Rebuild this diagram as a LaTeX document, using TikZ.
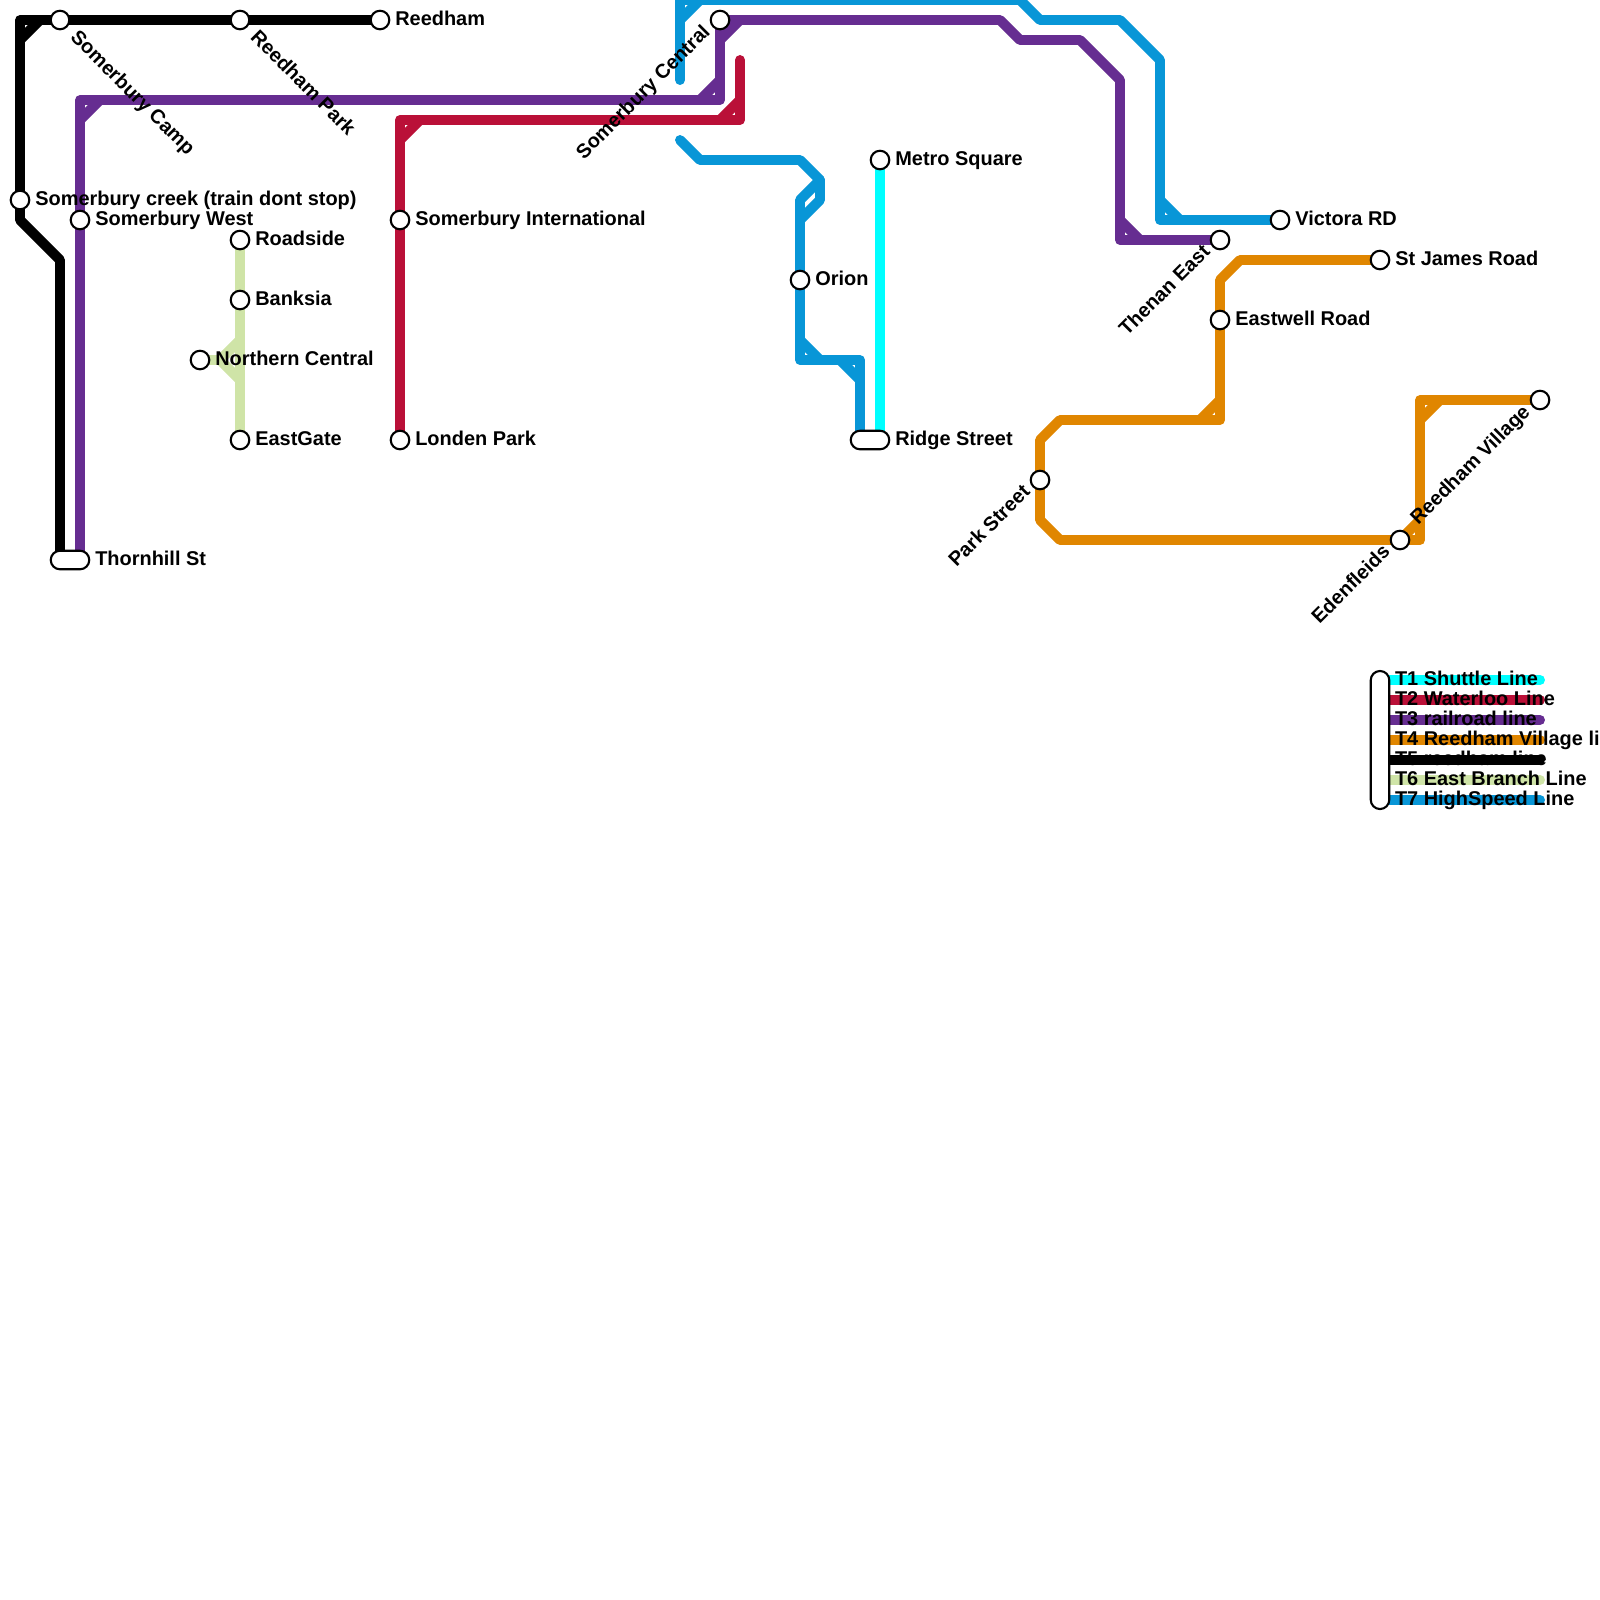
\documentclass[tikz,border=0pt]{standalone}
\usepackage{fontspec}
\setmainfont{Liberation Sans}
\usetikzlibrary{positioning}
\pgfdeclarelayer{lines}
\pgfsetlayers{lines,main}

\definecolor{tOne}{HTML}{00FFFF}
\definecolor{tTwo}{HTML}{BA1038}
\definecolor{tThree}{HTML}{662D91}
\definecolor{tFour}{HTML}{E08600}
\definecolor{tFive}{HTML}{000000}
\definecolor{tSix}{HTML}{CFE4A7}
\definecolor{tSeven}{HTML}{0896D7}

\tikzset{
  track/.style={line width=3.54pt, line join=round, line cap=round},
  station/.style={circle, draw=black, fill=white, line width=0.75pt, inner sep=0pt, minimum size=6.6pt},
  terminus/.style={rectangle, rounded corners=3.3pt, draw=black, fill=white, line width=0.75pt, inner sep=0pt, minimum width=13.7pt, minimum height=6.6pt},
  legendbox/.style={rectangle, rounded corners=3.3pt, draw=black, fill=white, line width=0.75pt, inner sep=0pt, minimum width=6.6pt, minimum height=49.1pt},
  lbl/.style={inner sep=0pt, outer sep=0pt, font=\fontsize{7.09pt}{8.5pt}\selectfont\bfseries},
  lblright/.style={lbl, yshift=-2.1pt},
  lbldown/.style={lbl, rotate=-45, anchor=mid west, xshift=3.4pt, yshift=0.4pt},
  lblup/.style={lbl, rotate=45, anchor=mid east, xshift=-1.9pt, yshift=1.6pt},
  lbllegend/.style={lbl, anchor=base west, yshift=-2.1pt},
  node distance=1.77pt
}

\begin{document}
\begin{tikzpicture}[x=0.25cm, y=-0.25cm]
    \useasboundingbox (0,0) rectangle (80,80);

    % stations
    \node[station] (reedham) at (19,1) {};
    \node[station] (reedhamPark) at (12,1) {};
    \node[station] (somCamp) at (3,1) {};
    \node[station] (somCreek) at (1,10) {};
    \node[station] (somWest) at (4,11) {};
    \node[terminus] (thornhill) at (3.5,28) {};
    \node[station] (roadside) at (12,12) {};
    \node[station] (banksia) at (12,15) {};
    \node[station] (northern) at (10,18) {};
    \node[station] (eastgate) at (12,22) {};
    \node[station] (somInt) at (20,11) {};
    \node[station] (londen) at (20,22) {};
    \node[station] (somCentral) at (36,1) {};
    \node[station] (metroSq) at (44,8) {};
    \node[station] (orion) at (40,14) {};
    \node[terminus] (ridge) at (43.5,22) {};
    \node[station] (victora) at (64,11) {};
    \node[station] (thenan) at (61,12) {};
    \node[station] (stJames) at (69,13) {};
    \node[station] (eastwell) at (61,16) {};
    \node[station] (parkSt) at (52,24) {};
    \node[station] (edenfleids) at (70,27) {};
    \node[station] (reedhamVil) at (77,20) {};
    \node[legendbox] (legend) at (69,37) {};

    % station names
    \node[lblright, base right=of reedham] (reedhamL) {Reedham};
    \node[lbldown] (reedhamParkL) at (reedhamPark.-45) {Reedham Park};
    \node[lbldown] (somCampL) at (somCamp.-45) {Somerbury Camp};
    \node[lblright, base right=of somCreek] (somCreekL) {Somerbury creek (train dont stop)};
    \node[lblright, base right=of somWest] (somWestL) {Somerbury West};
    \node[lblright, base right=of thornhill] (thornhillL) {Thornhill St};
    \node[lblright, base right=of roadside] (roadsideL) {Roadside};
    \node[lblright, base right=of banksia] (banksiaL) {Banksia};
    \node[lblright, base right=of northern] (northernL) {Northern Central};
    \node[lblright, base right=of eastgate] (eastgateL) {EastGate};
    \node[lblright, base right=of somInt] (somIntL) {Somerbury International};
    \node[lblright, base right=of londen] (londenL) {Londen Park};
    \node[lblup] (somCentralL) at (somCentral.225) {Somerbury Central};
    \node[lblright, base right=of metroSq] (metroSqL) {Metro Square};
    \node[lblright, base right=of orion] (orionL) {Orion};
    \node[lblright, base right=of ridge] (ridgeL) {Ridge Street};
    \node[lblright, base right=of victora] (victoraL) {Victora RD};
    \node[lblup] (thenanL) at (thenan.225) {Thenan East};
    \node[lblright, base right=of stJames] (stJamesL) {St James Road};
    \node[lblright, base right=of eastwell] (eastwellL) {Eastwell Road};
    \node[lblup] (parkStL) at (parkSt.225) {Park Street};
    \node[lblup] (edenfleidsL) at (edenfleids.225) {Edenfleids};
    \node[lblup] (reedhamVilL) at (reedhamVil.225) {Reedham Village};

    % legend names
    \node[lbllegend] (oneL) at (69.75,34) {T1 Shuttle Line};
    \node[lbllegend] (twoL) at (69.75,35) {T2 Waterloo Line};
    \node[lbllegend] (threeL) at (69.75,36) {T3 railroad line};
    \node[lbllegend] (fourL) at (69.75,37) {T4 Reedham Village line};
    \node[lbllegend] (fiveL) at (69.75,38) {T5 reedham line};
    \node[lbllegend] (sixL) at (69.75,39) {T6 East Branch Line};
    \node[lbllegend] (sevenL) at (69.75,40) {T7 HighSpeed Line};

    % T5 bends
    \coordinate (E1) at (1,1);
    \coordinate (E2) at (2,1);
    \coordinate (E3) at (1,2);
    \coordinate (E4) at (1,11);
    \coordinate (E5) at (3,13);
    \coordinate (E6) at (3,28);
    % T3 bends
    \coordinate (P1) at (4,28);
    \coordinate (P2) at (4,5);
    \coordinate (P3) at (5,5);
    \coordinate (P4) at (4,6);
    \coordinate (P5) at (36,5);
    \coordinate (P6) at (35,5);
    \coordinate (P7) at (36,4);
    \coordinate (P8) at (37,1);
    \coordinate (P9) at (36,2);
    \coordinate (P10) at (50,1);
    \coordinate (P11) at (51,2);
    \coordinate (P12) at (54,2);
    \coordinate (P13) at (56,4);
    \coordinate (P14) at (56,12);
    \coordinate (P15) at (56,11);
    \coordinate (P16) at (57,12);
    % T2 bends
    \coordinate (R1) at (37,3);
    \coordinate (R2) at (37,6);
    \coordinate (R3) at (36,6);
    \coordinate (R4) at (37,5);
    \coordinate (R5) at (20,6);
    \coordinate (R6) at (21,6);
    \coordinate (R7) at (20,7);
    % T6 bends
    \coordinate (G1) at (11,18);
    \coordinate (G2) at (12,17);
    \coordinate (G3) at (12,19);
    % T7 bends
    \coordinate (B1) at (34,4);
    \coordinate (B2) at (34,0);
    \coordinate (B3) at (35,0);
    \coordinate (B4) at (34,1);
    \coordinate (B5) at (51,0);
    \coordinate (B6) at (52,1);
    \coordinate (B7) at (56,1);
    \coordinate (B8) at (58,3);
    \coordinate (B9) at (58,11);
    \coordinate (B10) at (58,10);
    \coordinate (B11) at (59,11);
    \coordinate (C1) at (34,7);
    \coordinate (C2) at (35,8);
    \coordinate (C3) at (40,8);
    \coordinate (C4) at (41,9);
    \coordinate (C5) at (41,10);
    \coordinate (C6) at (40,11);
    \coordinate (C7) at (40,10);
    \coordinate (C8) at (40,18);
    \coordinate (C9) at (40,17);
    \coordinate (C10) at (41,18);
    \coordinate (C11) at (43,18);
    \coordinate (C12) at (42,18);
    \coordinate (C13) at (43,19);
    \coordinate (C14) at (43,22);
    % T1 end
    \coordinate (S1) at (44,22);
    % T4 bends
    \coordinate (O1) at (62,13);
    \coordinate (O2) at (61,14);
    \coordinate (O3) at (61,21);
    \coordinate (O4) at (60,21);
    \coordinate (O5) at (61,20);
    \coordinate (O6) at (53,21);
    \coordinate (O7) at (52,22);
    \coordinate (O8) at (52,26);
    \coordinate (O9) at (53,27);
    \coordinate (O10) at (71,27);
    \coordinate (O11) at (71,26);
    \coordinate (O12) at (71,20);
    \coordinate (O13) at (71,21);
    \coordinate (O14) at (72,20);
    % legend line ends
    \coordinate (oneA) at (69,34);
    \coordinate (oneB) at (77,34);
    \coordinate (twoA) at (69,35);
    \coordinate (twoB) at (77,35);
    \coordinate (threeA) at (69,36);
    \coordinate (threeB) at (77,36);
    \coordinate (fourA) at (69,37);
    \coordinate (fourB) at (77,37);
    \coordinate (fiveA) at (69,38);
    \coordinate (fiveB) at (77,38);
    \coordinate (sixA) at (69,39);
    \coordinate (sixB) at (77,39);
    \coordinate (sevenA) at (69,40);
    \coordinate (sevenB) at (77,40);

    \begin{pgfonlayer}{lines}
    % T5
    \draw[track, tFive] (reedham.center) -- (reedhamPark.center) -- (somCamp.center) -- (E1) -- (somCreek.center) -- (E4) -- (E5) -- (E6);
    \draw[track, tFive] (E2) -- (E3);
    % T3
    \draw[track, tThree] (P1) -- (somWest.center) -- (P2) -- (P5) -- (somCentral.center) -- (P10) -- (P11) -- (P12) -- (P13) -- (P14) -- (thenan.center);
    \draw[track, tThree] (P3) -- (P4);
    \draw[track, tThree] (P6) -- (P7);
    \draw[track, tThree] (P8) -- (P9);
    \draw[track, tThree] (P15) -- (P16);
    % T2
    \draw[track, tTwo] (R1) -- (R2) -- (R5) -- (somInt.center) -- (londen.center);
    \draw[track, tTwo] (R3) -- (R4);
    \draw[track, tTwo] (R6) -- (R7);
    % T6
    \draw[track, tSix] (roadside.center) -- (banksia.center) -- (eastgate.center);
    \draw[track, tSix] (northern.center) -- (G1) -- (G2);
    \draw[track, tSix] (G1) -- (G3);
    % T7
    \draw[track, tSeven] (B1) -- (B2) -- (B5) -- (B6) -- (B7) -- (B8) -- (B9) -- (victora.center);
    \draw[track, tSeven] (B3) -- (B4);
    \draw[track, tSeven] (B10) -- (B11);
    \draw[track, tSeven] (C1) -- (C2) -- (C3) -- (C4) -- (C5) -- (C6) -- (orion.center) -- (C8) -- (C11) -- (C14);
    \draw[track, tSeven] (C4) -- (C7) -- (C6);
    \draw[track, tSeven] (C9) -- (C10);
    \draw[track, tSeven] (C12) -- (C13);
    % T1
    \draw[track, tOne] (metroSq.center) -- (S1);
    % T4
    \draw[track, tFour] (stJames.center) -- (O1) -- (O2) -- (eastwell.center) -- (O3) -- (O6) -- (O7) -- (parkSt.center) -- (O8) -- (O9) -- (edenfleids.center) -- (O10) -- (O12) -- (reedhamVil.center);
    \draw[track, tFour] (O4) -- (O5);
    \draw[track, tFour] (edenfleids.center) -- (O11);
    \draw[track, tFour] (O13) -- (O14);
    % legend
    \draw[track, tOne] (oneA) -- (oneB);
    \draw[track, tTwo] (twoA) -- (twoB);
    \draw[track, tThree] (threeA) -- (threeB);
    \draw[track, tFour] (fourA) -- (fourB);
    \draw[track, tFive] (fiveA) -- (fiveB);
    \draw[track, tSix] (sixA) -- (sixB);
    \draw[track, tSeven] (sevenA) -- (sevenB);
    \end{pgfonlayer}
\end{tikzpicture}
\end{document}
